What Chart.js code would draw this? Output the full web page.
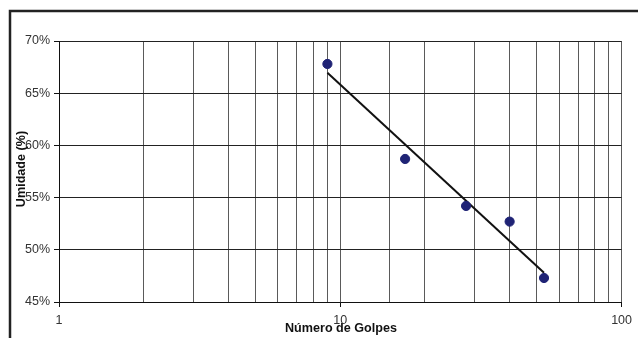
<!DOCTYPE html>
<html>
<head>
<meta charset="utf-8">
<script src="https://cdn.jsdelivr.net/npm/chart.js@4/dist/chart.umd.min.js"></script>
<style>
html,body{margin:0;padding:0;background:#fff;}
#wrap{width:638px;height:338px;}
</style>
</head>
<body>
<div id="wrap"><canvas id="c" width="638" height="338"></canvas></div>
<script>
const golpes = [9, 17, 28, 40, 53];
const umidade = [67.8, 58.7, 54.2, 52.7, 47.3];
const trendX = [9, 53];
const trendY = [66.95, 47.8];
const yTicks = [45, 50, 55, 60, 65, 70];
const xLabels = [1, 10, 100];
const xTitle = 'Número de Golpes';
const yTitle = 'Umidade (%)';

const FONT = '"Liberation Sans", Arial, sans-serif';

const isMajor = v => xLabels.includes(Math.round(v * 1000) / 1000);

const decor = {
  id: 'decor',
  afterDraw(chart) {
    const ctx = chart.ctx;
    const a = chart.chartArea;
    ctx.save();
    ctx.strokeStyle = '#222';
    ctx.lineWidth = 2.5;
    ctx.strokeRect(10, 11, 700, 400);
    ctx.fillStyle = '#111';
    ctx.font = 'bold 12.6px ' + FONT;
    ctx.textAlign = 'center';
    ctx.textBaseline = 'middle';
    ctx.fillText(xTitle, 341, 329);
    ctx.translate(22, 169);
    ctx.rotate(-Math.PI / 2);
    ctx.fillText(yTitle, 0, 0);
    ctx.restore();
  }
};

new Chart(document.getElementById('c'), {
  type: 'scatter',
  data: {
    datasets: [
      {
        label: 'Umidade',
        data: golpes.map((g, i) => ({x: g, y: umidade[i]})),
        backgroundColor: '#1f2375',
        borderColor: '#1f2375',
        pointRadius: 4.6,
        pointHoverRadius: 4.6,
        showLine: false
      },
      {
        label: 'Tendência',
        data: trendX.map((g, i) => ({x: g, y: trendY[i]})),
        showLine: true,
        borderColor: '#111',
        borderWidth: 2,
        pointRadius: 0,
        fill: false
      }
    ]
  },
  options: {
    responsive: false,
    animation: false,
    events: [],
    layout: {padding: {left: 0, top: 41, right: 16, bottom: 0}},
    plugins: {legend: {display: false}, tooltip: {enabled: false}},
    scales: {
      x: {
        type: 'logarithmic',
        min: 1,
        max: 100,
        afterFit(s) { s.height = 36; },
        border: {color: '#111', width: 1},
        grid: {
          color: '#5a5a5a',
          lineWidth: 1,
          tickLength: 5,
          tickColor: c => (c.tick && isMajor(c.tick.value)) ? '#111' : 'rgba(0,0,0,0)'
        },
        ticks: {
          autoSkip: false,
          maxRotation: 0,
          padding: 6,
          color: '#333',
          font: {family: FONT, size: 12.5},
          callback: v => isMajor(v) ? String(v) : ''
        }
      },
      y: {
        min: 45,
        max: 70,
        afterFit(s) { s.width = 59; },
        afterBuildTicks(s) { s.ticks = yTicks.map(v => ({value: v})); },
        border: {color: '#111', width: 1},
        grid: {color: '#222', lineWidth: 1, tickLength: 5, tickColor: '#111'},
        ticks: {
          padding: 4,
          color: '#333',
          font: {family: FONT, size: 12.5},
          callback: v => v + '%'
        }
      }
    }
  },
  plugins: [decor]
});
</script>
</body>
</html>
